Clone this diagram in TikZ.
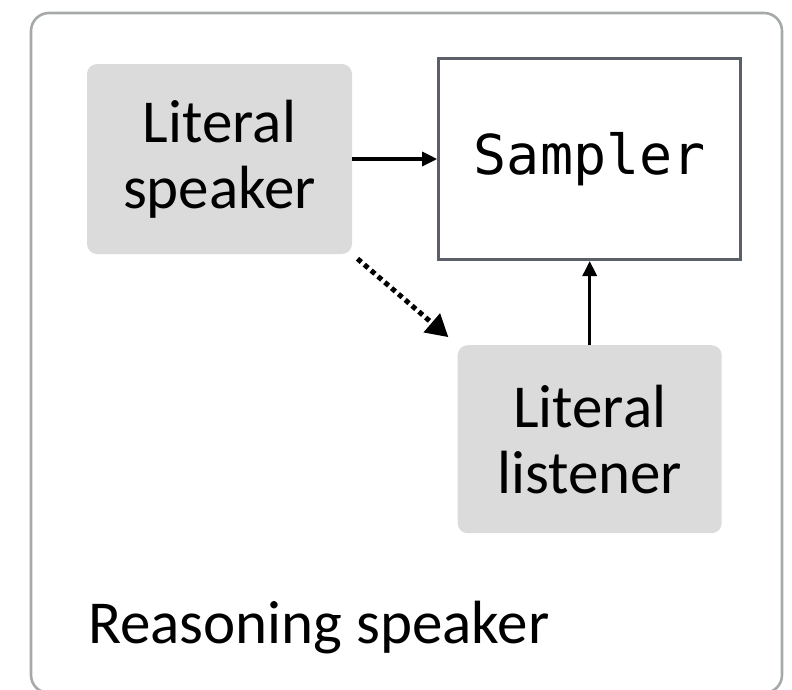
\documentclass[tikz,border=0pt]{standalone}
\usepackage{fontspec}
\setmainfont{Carlito}
\setmonofont{DejaVu Sans Mono}
\usepackage{tikz}
\usetikzlibrary{positioning,arrows.meta}
\definecolor{agentbg}{HTML}{DBDBDB}
\definecolor{samplerframe}{HTML}{5B6068}
\definecolor{outerframe}{HTML}{A6A9A9}
\newcommand{\code}[1]{\texttt{#1}}

\begin{document}
\begin{tikzpicture}[
  x=1pt, y=-1pt,
  font=\fontsize{61}{66}\selectfont,
  agent/.style={fill=agentbg, rounded corners=10pt, inner sep=0pt,
                minimum width=265pt, minimum height=190pt, align=center},
  sampler/.style={draw=samplerframe, line width=3pt, fill=white, inner sep=0pt,
                  minimum width=302pt, minimum height=201pt,
                  font=\fontsize{55}{60}\selectfont\ttfamily},
  arr/.style={-{Triangle[length=15pt, width=14pt]}, line width=3.2pt},
  dotarr/.style={-{Triangle[length=22pt, width=24pt]}, line width=5pt,
                 dash pattern=on 5pt off 4pt},
  ]
  \useasboundingbox (0,0) rectangle (792,689);
  \draw[outerframe, line width=2.6pt, rounded corners=18pt] (31,13) rectangle (782,693);

  \node[agent] (speaker) at (219.5,159) {Literal\\speaker};
  \node[sampler, right=85pt of speaker] (sampler) {\code{Sampler}};
  \node[agent, below=84pt of sampler, minimum width=264pt, minimum height=188pt] (listener) {Literal\\listener};
  \node[anchor=base west, inner sep=0pt] (reasoning) at (88,643) {Reasoning speaker};

  \draw[arr] (speaker) -- (sampler);
  \draw[arr] (listener) -- (sampler);
  \draw[dotarr, shorten <=7pt, shorten >=12pt] (speaker.south east) -- (listener.north west);
\end{tikzpicture}
\end{document}
